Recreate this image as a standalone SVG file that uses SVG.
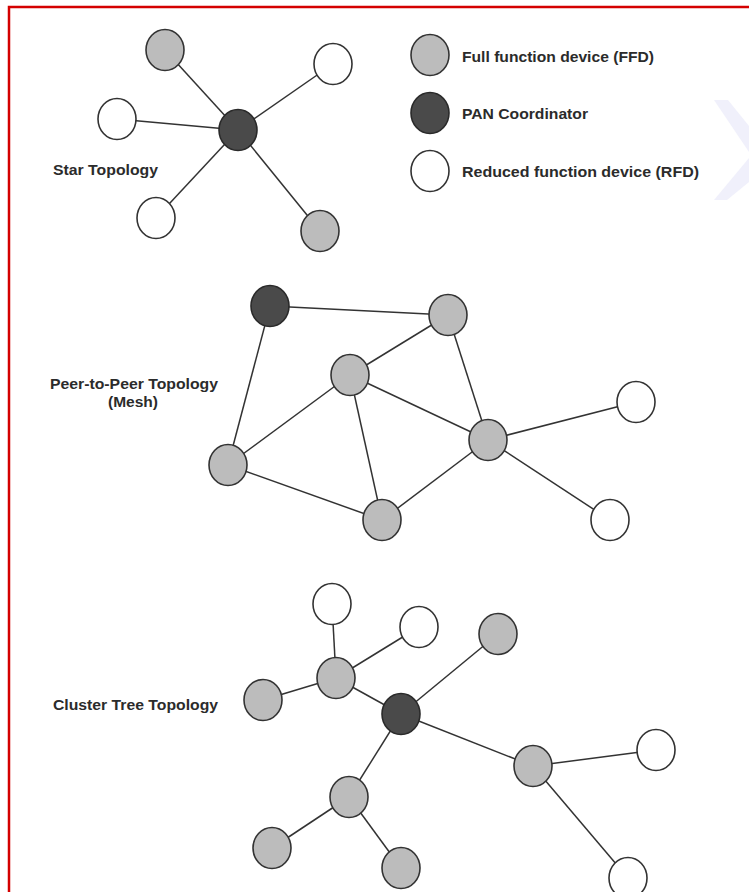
<svg xmlns="http://www.w3.org/2000/svg" width="749" height="892" viewBox="0 0 749 892">
  <style>
    .ffd { fill: #bcbcbc; stroke: #333; stroke-width: 1.6; }
    .pan { fill: #4a4a4a; stroke: #2a2a2a; stroke-width: 1.6; }
    .rfd { fill: #ffffff; stroke: #333; stroke-width: 1.6; }
    .link { stroke: #333; stroke-width: 1.5; fill: none; }
    .lbl { font-family: "Liberation Sans", Arial, sans-serif; font-weight: bold; font-size: 14px; fill: #2b2b2b; }
  </style>
  <defs>
    <ellipse id="n" cx="0" cy="0" rx="19" ry="20.5"/>
  </defs>
  <rect x="0" y="0" width="749" height="892" fill="#ffffff"/>
  <!-- frame -->
  <path d="M9 892 V7 H749" fill="none" stroke="#d40000" stroke-width="2.5"/>
  <!-- faint watermark chevron -->
  <g fill="#f0f0fb">
    <polygon points="714,100 728,100 749,126 749,152"/>
    <polygon points="749,158 749,182 727,200 714,200"/>
  </g>

  <!-- connectors -->
  <g id="connectors" class="link">
    <!-- star -->
    <line x1="238" y1="130" x2="165" y2="50"/>
    <line x1="238" y1="130" x2="333" y2="64"/>
    <line x1="238" y1="130" x2="117" y2="119"/>
    <line x1="238" y1="130" x2="156" y2="218"/>
    <line x1="238" y1="130" x2="320" y2="231"/>
    <!-- mesh -->
    <line x1="270" y1="306" x2="448" y2="315"/>
    <line x1="270" y1="306" x2="228" y2="465"/>
    <line x1="448" y1="315" x2="350" y2="375"/>
    <line x1="448" y1="315" x2="488" y2="440"/>
    <line x1="350" y1="375" x2="488" y2="440"/>
    <line x1="350" y1="375" x2="228" y2="465"/>
    <line x1="350" y1="375" x2="382" y2="520"/>
    <line x1="228" y1="465" x2="382" y2="520"/>
    <line x1="382" y1="520" x2="488" y2="440"/>
    <line x1="488" y1="440" x2="636" y2="402"/>
    <line x1="488" y1="440" x2="610" y2="520"/>
    <!-- cluster tree -->
    <line x1="336" y1="678" x2="332" y2="604"/>
    <line x1="336" y1="678" x2="419" y2="627"/>
    <line x1="336" y1="678" x2="263" y2="700"/>
    <line x1="336" y1="678" x2="401" y2="714"/>
    <line x1="401" y1="714" x2="498" y2="634"/>
    <line x1="401" y1="714" x2="533" y2="766"/>
    <line x1="401" y1="714" x2="349" y2="797"/>
    <line x1="533" y1="766" x2="656" y2="750"/>
    <line x1="533" y1="766" x2="628" y2="878"/>
    <line x1="349" y1="797" x2="272" y2="848"/>
    <line x1="349" y1="797" x2="401" y2="868"/>
  </g>

  <!-- star topology -->
  <g id="star-ffd-1"><use href="#n" class="ffd" x="165" y="50"/></g>
  <g id="star-rfd-1"><use href="#n" class="rfd" x="333" y="64"/></g>
  <g id="star-rfd-2"><use href="#n" class="rfd" x="117" y="119"/></g>
  <g id="star-pan"><use href="#n" class="pan" x="238" y="130"/></g>
  <g id="star-rfd-3"><use href="#n" class="rfd" x="156" y="218"/></g>
  <g id="star-ffd-2"><use href="#n" class="ffd" x="320" y="231"/></g>
  <g id="star-label"><text class="lbl" x="53" y="175" textLength="105" lengthAdjust="spacingAndGlyphs">Star Topology</text></g>

  <!-- legend -->
  <g id="legend-ffd"><use href="#n" class="ffd" x="430" y="55"/><text class="lbl" x="462" y="62" textLength="192" lengthAdjust="spacingAndGlyphs">Full function device (FFD)</text></g>
  <g id="legend-pan"><use href="#n" class="pan" x="430" y="113"/><text class="lbl" x="462" y="119" textLength="126" lengthAdjust="spacingAndGlyphs">PAN Coordinator</text></g>
  <g id="legend-rfd"><use href="#n" class="rfd" x="430" y="171"/><text class="lbl" x="462" y="177" textLength="237" lengthAdjust="spacingAndGlyphs">Reduced function device (RFD)</text></g>

  <!-- peer-to-peer (mesh) topology -->
  <g id="mesh-pan"><use href="#n" class="pan" x="270" y="306"/></g>
  <g id="mesh-ffd-a"><use href="#n" class="ffd" x="448" y="315"/></g>
  <g id="mesh-ffd-b"><use href="#n" class="ffd" x="350" y="375"/></g>
  <g id="mesh-ffd-c"><use href="#n" class="ffd" x="488" y="440"/></g>
  <g id="mesh-ffd-d"><use href="#n" class="ffd" x="228" y="465"/></g>
  <g id="mesh-ffd-e"><use href="#n" class="ffd" x="382" y="520"/></g>
  <g id="mesh-rfd-f"><use href="#n" class="rfd" x="636" y="402"/></g>
  <g id="mesh-rfd-g"><use href="#n" class="rfd" x="610" y="520"/></g>
  <g id="mesh-label">
    <text class="lbl" x="50" y="389" textLength="168" lengthAdjust="spacingAndGlyphs">Peer-to-Peer Topology</text>
    <text class="lbl" x="108" y="407" textLength="50" lengthAdjust="spacingAndGlyphs">(Mesh)</text>
  </g>

  <!-- cluster tree topology -->
  <g id="tree-rfd-1"><use href="#n" class="rfd" x="332" y="604"/></g>
  <g id="tree-rfd-2"><use href="#n" class="rfd" x="419" y="627"/></g>
  <g id="tree-ffd-1"><use href="#n" class="ffd" x="498" y="634"/></g>
  <g id="tree-hub-1"><use href="#n" class="ffd" x="336" y="678"/></g>
  <g id="tree-ffd-2"><use href="#n" class="ffd" x="263" y="700"/></g>
  <g id="tree-pan"><use href="#n" class="pan" x="401" y="714"/></g>
  <g id="tree-rfd-3"><use href="#n" class="rfd" x="656" y="750"/></g>
  <g id="tree-hub-2"><use href="#n" class="ffd" x="533" y="766"/></g>
  <g id="tree-hub-3"><use href="#n" class="ffd" x="349" y="797"/></g>
  <g id="tree-ffd-3"><use href="#n" class="ffd" x="272" y="848"/></g>
  <g id="tree-ffd-4"><use href="#n" class="ffd" x="401" y="868"/></g>
  <g id="tree-rfd-4"><use href="#n" class="rfd" x="628" y="878"/></g>
  <g id="tree-label"><text class="lbl" x="53" y="710" textLength="165" lengthAdjust="spacingAndGlyphs">Cluster Tree Topology</text></g>
</svg>
